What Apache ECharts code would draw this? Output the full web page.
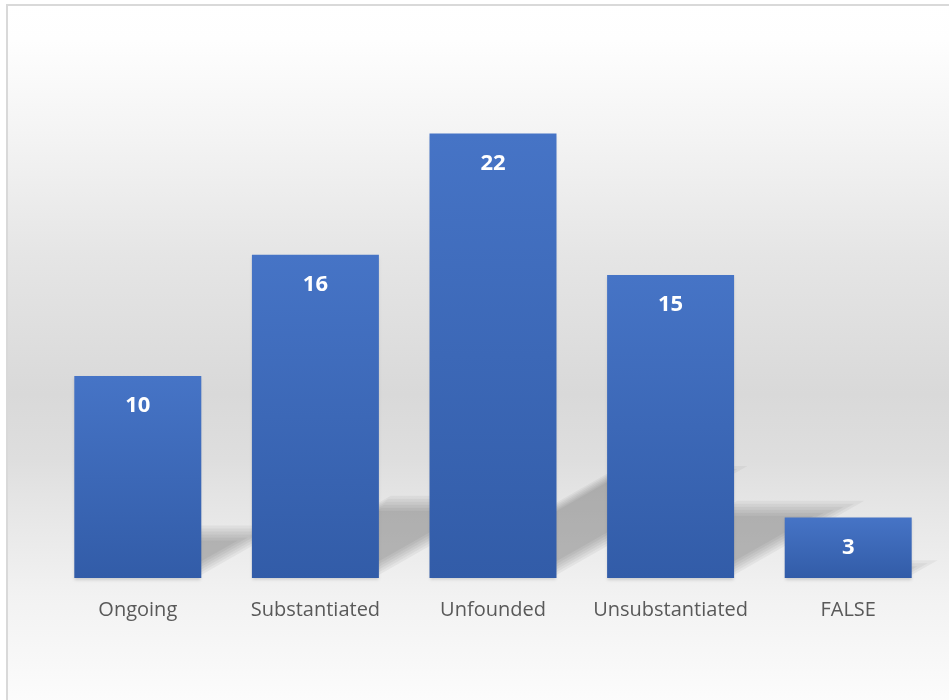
<!DOCTYPE html>
<html>
<head>
<meta charset="utf-8">
<script src="https://cdn.jsdelivr.net/npm/echarts@6.0.0/dist/echarts.min.js"></script>
<style>
  html, body { margin: 0; padding: 0; background: #fff; }
  #chart { width: 949px; height: 700px; }
</style>
</head>
<body>
<div id="chart"></div>
<script>
// chart data
var categories = ['Ongoing', 'Substantiated', 'Unfounded', 'Unsubstantiated', 'FALSE'];
var counts = [10, 16, 22, 15, 3];

var barColor = {
  type: 'linear', x: 0, y: 0, x2: 0, y2: 1,
  colorStops: [
    { offset: 0, color: '#4674c6' },
    { offset: 1, color: '#325ca8' }
  ]
};

// background of the chart area, gray in the middle
var bgFill = {
  type: 'linear', x: 0, y: 0, x2: 0, y2: 1,
  colorStops: [
    { offset: 0, color: '#ffffff' },
    { offset: 0.05, color: '#fefefe' },
    { offset: 0.19, color: '#f3f3f3' },
    { offset: 0.35, color: '#e5e5e5' },
    { offset: 0.54, color: '#d9d9d9' },
    { offset: 0.63, color: '#dedede' },
    { offset: 0.68, color: '#e4e4e4' },
    { offset: 0.82, color: '#f2f2f2' },
    { offset: 1, color: '#fefefe' }
  ]
};

// slanted soft shadow behind each bar (stacked layers for a blurred edge)
function renderShadow(params, api) {
  var i = api.value(0);
  var v = api.value(1);
  var base = api.coord([i, 0]);
  var top = api.coord([i, v]);
  var band = api.size([1, 0])[0];
  var half = band * 0.715 / 2;
  var h = (base[1] - top[1]) * 0.245;
  var slope = 0.57;
  var x0 = base[0] - half, x1 = base[0] + half, y0 = base[1] - 3;
  var layers = [];
  for (var k = 0; k < 6; k++) {
    var inset = k * 3;
    var hk = h - inset;
    if (hk <= 2) break;
    layers.push({
      type: 'polygon',
      shape: {
        points: [
          [x0 + inset, y0],
          [x1 - inset * 1.6, y0],
          [x1 - inset * 1.6 + hk / slope, y0 - hk],
          [x0 + inset + hk / slope, y0 - hk]
        ]
      },
      style: { fill: 'rgba(0,0,0,0.042)' }
    });
  }
  return { type: 'group', children: layers };
}

var myChart = echarts.init(document.getElementById('chart'));
myChart.setOption({
  animation: false,
  backgroundColor: '#ffffff',
  graphic: [{
    type: 'rect',
    z: -10,
    silent: true,
    shape: { x: 7, y: 5, width: 960, height: 720 },
    style: { fill: bgFill, stroke: '#d9d9d9', lineWidth: 2 }
  }],
  grid: { left: 49, right: 12, top: 73, bottom: 122 },
  xAxis: {
    type: 'category',
    data: categories,
    axisLine: { show: false },
    axisTick: { show: false },
    axisLabel: {
      interval: 0,
      margin: 22,
      color: '#595959',
      fontSize: 20,
      fontFamily: 'Open Sans'
    }
  },
  yAxis: {
    type: 'value',
    min: 0,
    max: 25,
    show: false,
    splitLine: { show: false }
  },
  series: [
    {
      type: 'custom',
      clip: false,
      z: 1,
      silent: true,
      renderItem: renderShadow,
      data: counts.map(function (v, i) { return [i, v]; })
    },
    {
      type: 'bar',
      z: 2,
      barWidth: '71.5%',
      data: counts,
      itemStyle: {
        color: barColor,
        shadowBlur: 3,
        shadowOffsetY: 2,
        shadowColor: 'rgba(0,0,0,0.15)'
      },
      label: {
        show: true,
        position: 'insideTop',
        distance: 19,
        color: '#ffffff',
        fontWeight: 'bold',
        fontSize: 22,
        fontFamily: 'Open Sans'
      }
    }
  ]
});
</script>
</body>
</html>
